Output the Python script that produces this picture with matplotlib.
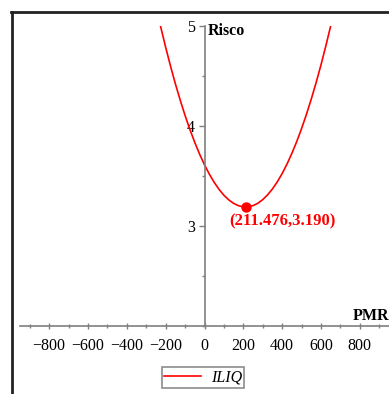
import matplotlib
matplotlib.use("Agg")
import matplotlib.pyplot as plt
from matplotlib.lines import Line2D
from matplotlib.ticker import MultipleLocator

# Curve samples (PMR vs Risco)
pmr = [-250, -225, -200, -175, -150, -125, -100, -75, -50, -25, 0, 25, 50, 75,
       100, 125, 150, 175, 200, 211.476, 225, 250, 275, 300, 325, 350, 375, 400,
       425, 450, 475, 500, 525, 550, 575, 600, 625, 650, 675]
risco = [5.198, 4.987, 4.787, 4.599, 4.422, 4.258, 4.105, 3.964, 3.835, 3.717,
         3.612, 3.518, 3.436, 3.366, 3.307, 3.261, 3.226, 3.203, 3.191, 3.190,
         3.192, 3.204, 3.228, 3.264, 3.312, 3.371, 3.442, 3.525, 3.620, 3.727,
         3.845, 3.975, 4.117, 4.271, 4.436, 4.613, 4.803, 5.003, 5.216]
min_x = 211.476
min_y = 3.190
min_label = "(211.476,3.190)"
x_ticks = [-800, -600, -400, -200, 0, 200, 400, 600, 800]
y_ticks = [3, 4, 5]
series_name = "ILIQ"

W, H = 389, 394
fig = plt.figure(figsize=(W / 100, H / 100), dpi=100)
plt.rcParams['font.family'] = ['Liberation Serif', 'DejaVu Serif']

# axes: x from -950..950 over px 20..389 ; y 2..5 over px 326..26
ax = fig.add_axes([20 / W, 1 - 326 / H, 369 / W, 300 / H])
ax.set_xlim(-950, 950)
ax.set_ylim(2, 5)
ax.patch.set_alpha(0)

gray = '#7f7f7f'
for s in ['top', 'right']:
    ax.spines[s].set_visible(False)
ax.spines['left'].set_position(('data', 0))
ax.spines['left'].set_color(gray)
ax.spines['bottom'].set_color(gray)
ax.spines['left'].set_linewidth(1.2)
ax.spines['bottom'].set_linewidth(1.2)

ax.set_xticks(x_ticks)
ax.set_xticklabels([("\u2212" + str(-t)) if t < 0 else str(t) for t in x_ticks])
ax.xaxis.set_minor_locator(MultipleLocator(100))
ax.set_yticks(y_ticks)
ax.set_yticklabels([str(t) for t in y_ticks])
ax.yaxis.set_minor_locator(MultipleLocator(0.5))
ax.tick_params(axis='x', which='major', direction='inout', length=5, width=1,
               color=gray, labelsize=11.5, pad=6)
ax.tick_params(axis='x', which='minor', direction='inout', length=3, width=1,
               color=gray)
ax.tick_params(axis='y', which='major', direction='out', length=4, width=1,
               color=gray, labelsize=11.5, pad=3)
ax.tick_params(axis='y', which='minor', direction='out', length=2, width=1,
               color=gray)

ax.plot(pmr, risco, color='#ff0000', lw=1.2, clip_on=True, label=series_name)
ax.plot([min_x], [min_y], 'o', color='#ff0000', ms=6.5, clip_on=False)
ax.text(400, 3.05, min_label, color='#ff0000', fontsize=12, fontweight='bold',
        ha='center', va='center')

ax.text(15, 4.95, "Risco", fontsize=11.5, fontweight='bold',
        ha='left', va='center')
fig.text(389 / W, 1 - 316 / H, "PMR", fontsize=11.5, fontweight='bold',
         ha='right', va='center')

leg = fig.legend(handles=[Line2D([], [], color='#ff0000', lw=1.2)],
                 labels=[series_name], loc='center',
                 bbox_to_anchor=(203 / W, 1 - 377.5 / H),
                 prop={'style': 'italic', 'size': 11.5}, frameon=True,
                 fancybox=False, borderpad=0.15, handlelength=2.3,
                 handletextpad=0.6, borderaxespad=0)
leg.get_frame().set_edgecolor('#6f6f6f')
leg.get_frame().set_linewidth(1.2)

# outer frame (top and left edges)
fig.add_artist(Line2D([11 / W, 1], [1 - 11.5 / H] * 2, transform=fig.transFigure,
                      color='#222222', lw=2))
fig.add_artist(Line2D([12 / W] * 2, [0, 1 - 11.5 / H], transform=fig.transFigure,
                      color='#222222', lw=2))

fig.savefig("out.png", dpi=100)
